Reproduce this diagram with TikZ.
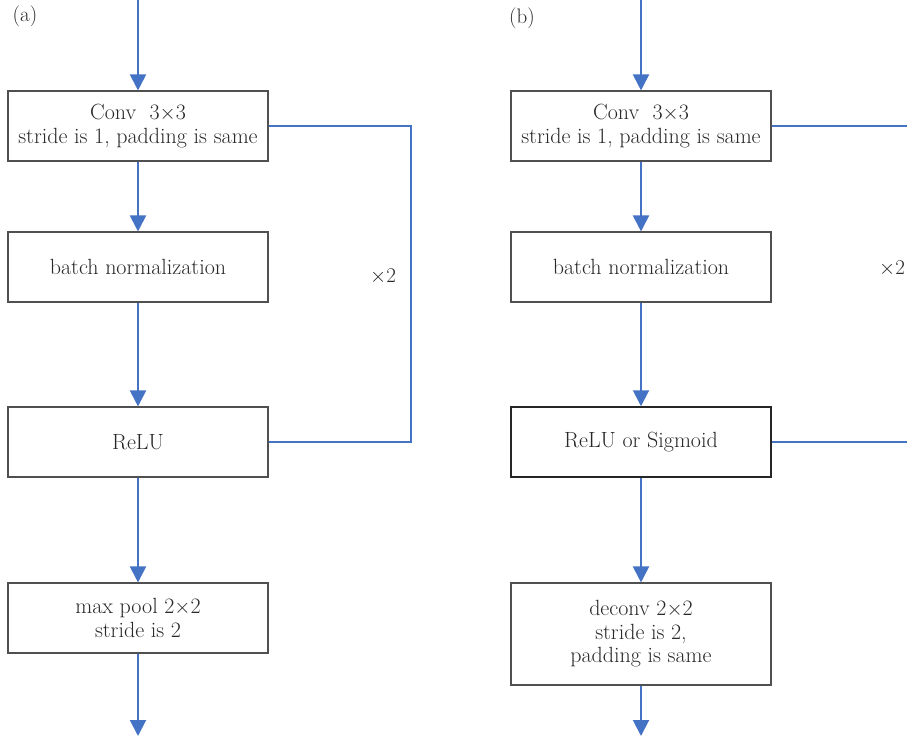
\documentclass[tikz,border=0pt]{standalone}
\usetikzlibrary{arrows.meta}
\definecolor{flowblue}{RGB}{68,114,196}
\definecolor{boxgray}{RGB}{80,80,80}
\definecolor{txt}{RGB}{40,40,40}
\begin{document}
\begin{tikzpicture}[x=1pt,y=-1pt,
  blk/.style={draw=boxgray,line width=1.1pt,minimum width=260pt,minimum height=70pt,inner sep=0pt,align=center,text=txt,font=\fontsize{22}{23.5}\selectfont},
  darkblk/.style={blk,draw=black!85,line width=1.5pt},
  flow/.style={draw=flowblue,line width=2pt,-{Triangle[width=16pt,length=16pt]}},
  loop/.style={draw=flowblue,line width=1.6pt},
  lbl/.style={font=\fontsize{21}{23}\selectfont,text=txt,inner sep=0pt}]
\useasboundingbox (0,0) rectangle (907,738);
% (a)
\node[lbl] (la) at (25,16) {(a)};
\coordinate (aTop) at (138,0);
\node[blk] (a1) at (138,126) {Conv\ \ 3$\times$3\\stride is 1, padding is same};
\node[blk] (a2) at (138,267) {batch normalization};
\node[blk] (a3) at (138,442) {ReLU};
\node[blk] (a4) at (138,618) {max pool 2$\times$2\\stride is 2};
\coordinate (aBot) at (138,736);
\draw[flow] (aTop) -- (a1);
\draw[flow] (a1) -- (a2);
\draw[flow] (a2) -- (a3);
\draw[flow] (a3) -- (a4);
\draw[flow] (a4) -- (aBot);
\coordinate (aLoop) at (411,126);
\draw[loop] (a1.east) -- (aLoop) |- (a3.east);
\node[lbl] (ax) at (383,276) {$\times$2};
% (b)
\node[lbl] (lb) at (522,18) {(b)};
\coordinate (bTop) at (641,0);
\node[blk] (b1) at (641,126) {Conv\ \ 3$\times$3\\stride is 1, padding is same};
\node[blk] (b2) at (641,267) {batch normalization};
\node[darkblk] (b3) at (641,442) {ReLU or Sigmoid};
\node[blk,minimum height=102pt] (b4) at (641,634) {deconv 2$\times$2\\stride is 2,\\padding is same};
\coordinate (bBot) at (641,736);
\draw[flow] (bTop) -- (b1);
\draw[flow] (b1) -- (b2);
\draw[flow] (b2) -- (b3);
\draw[flow] (b3) -- (b4);
\draw[flow] (b4) -- (bBot);
\coordinate (bR1) at (907,126);
\coordinate (bR3) at (907,442);
\draw[loop] (b1.east) -- (bR1);
\draw[loop] (b3.east) -- (bR3);
\node[lbl] (bx) at (892,268) {$\times$2};
\end{tikzpicture}
\end{document}
